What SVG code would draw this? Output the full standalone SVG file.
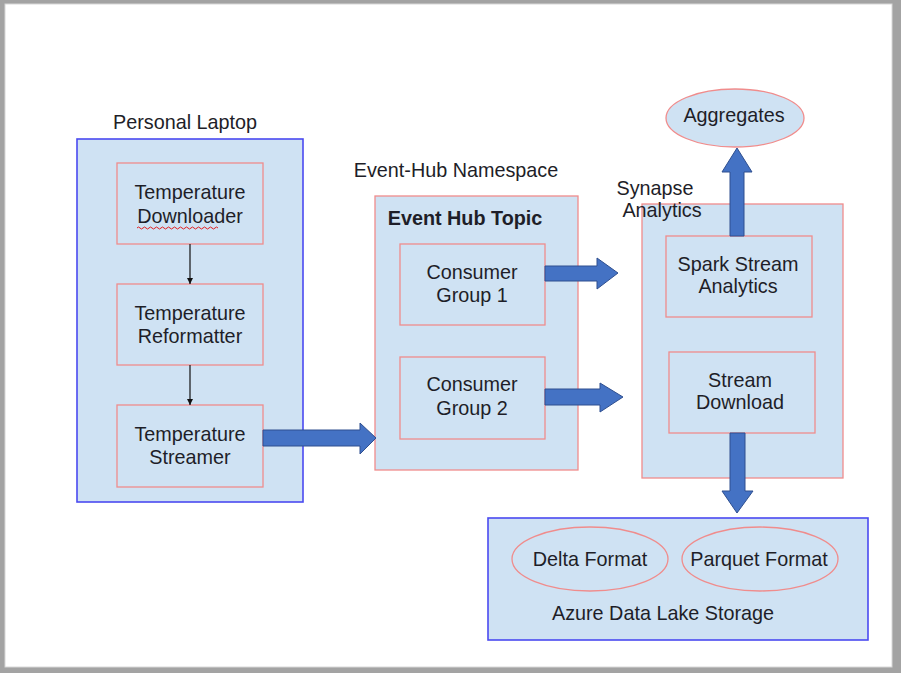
<svg xmlns="http://www.w3.org/2000/svg" width="901" height="673" viewBox="0 0 901 673">
<defs>
<style>
.t{font-family:"Liberation Sans",Arial,sans-serif;font-size:19.8px;fill:#1e1e28;text-anchor:middle}
.b{font-weight:bold}
.blue{fill:#cfe2f3;stroke:#4a4af0;stroke-width:1.6}
.red{fill:#cfe2f3;stroke:#f08c8c;stroke-width:1.3}
.big{fill:#4472c4;stroke:#2f4f8f;stroke-width:1}
.thin{stroke:#111;stroke-width:1.2;fill:none}
</style>
<marker id="ah" viewBox="0 0 10 10" refX="10" refY="5" markerWidth="6" markerHeight="6" orient="auto" markerUnits="userSpaceOnUse">
<path d="M0,0 L10,5 L0,10 z" fill="#111"/>
</marker>
</defs>
<rect x="0" y="0" width="901" height="673" fill="#a3a3a3"/>
<rect x="5" y="4" width="887" height="663" fill="#ffffff" stroke="#d8d8d8" stroke-width="1"/>

<g id="personal-laptop">
<rect class="blue" x="77" y="139" width="226" height="363"/>
<text class="t" x="185" y="129">Personal Laptop</text>
</g>
<g id="temperature-downloader">
<rect class="red" x="117" y="163" width="146" height="81"/>
<text class="t" x="190" y="199">Temperature</text>
<text class="t" x="190" y="223">Downloader</text>
<path d="M137,228 q1.5,-2 3,0 t3,0 t3,0 t3,0 t3,0 t3,0 t3,0 t3,0 t3,0 t3,0 t3,0 t3,0 t3,0 t3,0 t3,0 t3,0 t3,0 t3,0 t3,0 t3,0 t3,0 t3,0 t3,0 t3,0 t3,0 t3,0 t3,0" fill="none" stroke="#e02020" stroke-width="1"/>
</g>
<g id="temperature-reformatter">
<rect class="red" x="117" y="284" width="146" height="81"/>
<text class="t" x="190" y="320">Temperature</text>
<text class="t" x="190" y="343">Reformatter</text>
</g>
<g id="temperature-streamer">
<rect class="red" x="117" y="405" width="146" height="82"/>
<text class="t" x="190" y="441">Temperature</text>
<text class="t" x="190" y="464">Streamer</text>
</g>

<g id="event-hub-topic">
<rect class="red" x="375" y="196" width="203" height="274"/>
<text class="t" x="456" y="177">Event-Hub Namespace</text>
<text class="t b" x="465" y="225">Event Hub Topic</text>
</g>
<g id="consumer-group-1">
<rect class="red" x="400" y="244" width="145" height="81"/>
<text class="t" x="472" y="279">Consumer</text>
<text class="t" x="472" y="302">Group 1</text>
</g>
<g id="consumer-group-2">
<rect class="red" x="400" y="357" width="145" height="82"/>
<text class="t" x="472" y="391">Consumer</text>
<text class="t" x="472" y="415">Group 2</text>
</g>

<g id="synapse-analytics">
<rect class="red" x="642" y="204" width="201" height="274"/>
<text class="t" x="655" y="195">Synapse</text>
<text class="t" x="662" y="217">Analytics</text>
</g>
<g id="spark-stream-analytics">
<rect class="red" x="666" y="236" width="146" height="81"/>
<text class="t" x="738" y="271">Spark Stream</text>
<text class="t" x="738" y="293">Analytics</text>
</g>
<g id="stream-download">
<rect class="red" x="669" y="352" width="146" height="81"/>
<text class="t" x="740" y="387">Stream</text>
<text class="t" x="740" y="409">Download</text>
</g>
<g id="aggregates">
<ellipse class="red" cx="735" cy="118" rx="69" ry="29"/>
<text class="t" x="734" y="122">Aggregates</text>
</g>

<g id="azure-data-lake-storage">
<rect class="blue" x="488" y="518" width="380" height="122"/>
<text class="t" x="663" y="620">Azure Data Lake Storage</text>
</g>
<g id="delta-format">
<ellipse class="red" cx="590" cy="559" rx="78" ry="32"/>
<text class="t" x="590" y="566">Delta Format</text>
</g>
<g id="parquet-format">
<ellipse class="red" cx="760" cy="559" rx="78" ry="32"/>
<text class="t" x="759" y="566">Parquet Format</text>
</g>

<g id="connectors">
<line class="thin" x1="190" y1="244" x2="190" y2="284" marker-end="url(#ah)"/>
<line class="thin" x1="190" y1="365" x2="190" y2="405" marker-end="url(#ah)"/>
<path class="big" d="M263,430 L360,430 L360,423 L376,438 L360,454 L360,446 L263,446 z"/>
<path class="big" d="M545,266 L597,266 L597,258 L618,273 L597,289 L597,281 L545,281 z"/>
<path class="big" d="M545,389 L600,389 L600,383 L623,397 L600,412 L600,405 L545,405 z"/>
<path class="big" d="M730,236 L730,172 L722,172 L737,148 L752,172 L744,172 L744,236 z"/>
<path class="big" d="M730,433 L730,491 L722,491 L737,513 L753,491 L745,491 L745,433 z"/>
</g>
</svg>
